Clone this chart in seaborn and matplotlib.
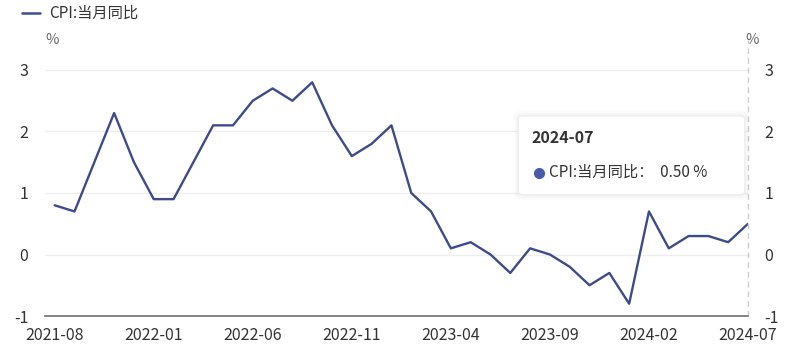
import numpy as np
import pandas as pd
import matplotlib.pyplot as plt
import seaborn as sns
from matplotlib.patches import FancyBboxPatch
from matplotlib.lines import Line2D

months = ["2021-08", "2021-09", "2021-10", "2021-11", "2021-12",
          "2022-01", "2022-02", "2022-03", "2022-04", "2022-05", "2022-06",
          "2022-07", "2022-08", "2022-09", "2022-10", "2022-11", "2022-12",
          "2023-01", "2023-02", "2023-03", "2023-04", "2023-05", "2023-06",
          "2023-07", "2023-08", "2023-09", "2023-10", "2023-11", "2023-12",
          "2024-01", "2024-02", "2024-03", "2024-04", "2024-05", "2024-06",
          "2024-07"]
cpi_yoy = [0.8, 0.7, 1.5, 2.3, 1.5,
           0.9, 0.9, 1.5, 2.1, 2.1, 2.5,
           2.7, 2.5, 2.8, 2.1, 1.6, 1.8,
           2.1, 1.0, 0.7, 0.1, 0.2, 0.0,
           -0.3, 0.1, 0.0, -0.2, -0.5, -0.3,
           -0.8, 0.7, 0.1, 0.3, 0.3, 0.2,
           0.5]
y_ticks = [-1, 0, 1, 2, 3]
series_name = "CPI:当月同比"

df = pd.DataFrame({"idx": range(len(months)), "month": months, "value": cpi_yoy})

sns.set_style("white")
plt.rcParams['font.family'] = ['Noto Sans CJK SC', 'DejaVu Sans']

line_color = "#3d4b8c"
text_color = "#333333"

fig = plt.figure(figsize=(8, 3.51), dpi=100)
ax = fig.add_axes([0.056, 0.0997, 0.879, 0.7009])

sns.lineplot(data=df, x="idx", y="value", ax=ax, color=line_color, linewidth=1.7)

ax.set_xlim(-0.5, len(months) - 1)
ax.set_ylim(-1, 3)
ax.set_yticks(y_ticks)
ax.set_yticklabels([str(t) for t in y_ticks])
ax.grid(axis='y', color="#eeeeee", linewidth=0.9)
ax.set_axisbelow(True)
for s in ["top", "right", "left"]:
    ax.spines[s].set_visible(False)
ax.spines["bottom"].set_color("#6e7079")
ax.spines["bottom"].set_linewidth(1.2)

tick_idx = list(range(0, len(months), 5))
ax.set_xticks(tick_idx)
ax.set_xticklabels([months[i] for i in tick_idx])
ax.tick_params(axis='x', length=0, pad=8, labelsize=11.5, labelcolor=text_color)
ax.tick_params(axis='y', length=0, pad=12, labelsize=11.5, labelcolor=text_color)
ax.set_xlabel("")
ax.set_ylabel("")

# right axis mirror
ax2 = ax.twinx()
ax2.set_ylim(-1, 3)
ax2.set_yticks(y_ticks)
ax2.set_yticklabels([str(t) for t in y_ticks])
ax2.tick_params(axis='y', length=0, pad=12, labelsize=11.5, labelcolor=text_color)
for s in ax2.spines.values():
    s.set_visible(False)

# axis pointer
ax.axvline(len(months) - 1, color="#c8ccd6", linestyle=(0, (4, 3)), linewidth=1, ymax=1.12, clip_on=False)

# unit labels
fig.text(0.065, 0.885, "%", fontsize=10.5, color="#666666", ha="center", va="center")
fig.text(0.94, 0.885, "%", fontsize=10.5, color="#666666", ha="center", va="center")

# legend
fig.add_artist(Line2D([0.028, 0.05], [0.962, 0.962], color=line_color, linewidth=1.8))
fig.text(0.062, 0.962, series_name, fontsize=11, color=text_color, ha="left", va="center")

# tooltip (with soft shadow)
for k in range(4):
    d = 4 - k
    sh = FancyBboxPatch((0.648 - 0.0015 * d, 0.445 - 0.004 * d),
                        0.283 + 0.003 * d, 0.225 + 0.008 * d,
                        boxstyle="round,pad=0,rounding_size=0.012",
                        transform=fig.transFigure, facecolor="black", edgecolor="none",
                        alpha=0.012, zorder=9)
    fig.add_artist(sh)
tip = FancyBboxPatch((0.648, 0.445), 0.283, 0.225, boxstyle="round,pad=0,rounding_size=0.008",
                     transform=fig.transFigure, facecolor="white", edgecolor="#eeeeee",
                     linewidth=1, zorder=10)
fig.add_artist(tip)
fig.text(0.665, 0.607, months[-1], fontsize=11.5, fontweight="bold", color=text_color,
         ha="left", va="center", zorder=11)
fig.add_artist(Line2D([0.674], [0.508], marker="o", markersize=7, color="#4a5ba8", zorder=11))
fig.text(0.686, 0.508, f"{series_name}：  {cpi_yoy[-1]:.2f} %", fontsize=11, color=text_color,
         ha="left", va="center", zorder=11)

fig.savefig("out.png", dpi=100)
